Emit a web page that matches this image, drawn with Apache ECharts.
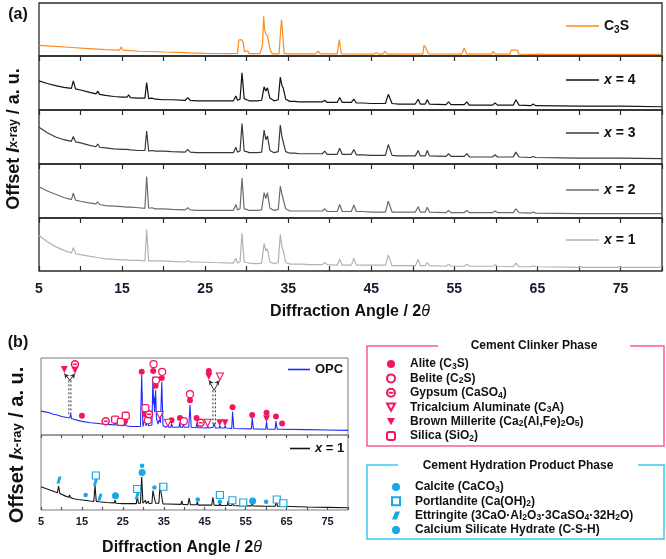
<!DOCTYPE html>
<html><head><meta charset="utf-8">
<script src="https://cdn.jsdelivr.net/npm/echarts@6/dist/echarts.min.js"></script>
<style>html,body{margin:0;padding:0;background:#fff}#c{width:666px;height:559px}</style>
</head><body><div id="c"></div>
<script>
// ---------- axis ----------
const angleMin = 5, angleMax = 80, angleStep = 5;
const tickLabels = [5, 15, 25, 35, 45, 55, 65, 75];

// ---------- panel (a) patterns: [2θ, offset intensity (% of sub-panel)] ----------
const c3s = [[5,20],[7,18],[9,16],[11,14],[13,12],[14.7,11],[14.9,17],[15.1,11],[17,9],[20,7.5],[22.6,6.5],[22.8,9],[23,6],[25,5],[28,4.5],[28.9,5],[29.05,30],[29.2,33],[29.35,31],[29.55,27],[29.75,8],[29.9,11],[30.1,10],[30.3,4.5],[31.6,4.5],[31.9,20],[32.05,75],[32.15,50],[32.3,42],[32.5,38],[32.7,36],[32.85,10],[33.1,4],[33.9,4],[34.05,40],[34.2,69],[34.35,40],[34.5,5],[35,4],[38.3,4],[38.6,9],[38.9,4],[40.9,4],[41.15,31],[41.4,4],[45.3,3.5],[45.6,6],[45.9,3.5],[46.4,3.5],[46.65,9],[46.9,3.5],[49.5,3.5],[49.7,5],[49.9,3.5],[51.2,3.5],[51.35,20],[51.55,16],[51.75,19],[51.9,4],[55.9,3.5],[56.2,15],[56.5,3.5],[59.5,3.5],[59.7,9],[59.9,3.5],[61.7,3.5],[61.85,11],[62.6,11],[62.75,3.5],[64,3],[65.5,3.5],[66,3],[80,3]];
const x4 = [[5,54],[6,49],[7,45],[8,42],[8.9,40],[9.13,54],[9.4,39],[10,37],[11,33],[11.85,30],[12.07,35],[12.3,29],[13,27],[14,25],[15,24],[15.6,24],[15.8,28],[16,23],[17,22],[17.75,22],[17.96,51],[18.2,21],[18.6,22],[19,20],[20,19],[21,19],[22.6,18],[22.9,23],[23.2,18],[24,17],[26,17],[28.4,17],[28.7,26],[28.9,18],[29.2,20],[29.44,69],[29.7,21],[30,19],[30.3,17],[30.9,17],[31.1,20],[31.3,17],[31.8,18],[32.1,43],[32.3,35],[32.5,41],[32.8,22],[33.3,17],[33.8,19],[34.05,61],[34.25,45],[34.4,41],[34.7,20],[35.2,16],[35.8,16],[36,18],[36.3,15],[36.8,15],[37,17],[37.3,15],[39.1,15],[39.4,18],[39.7,14],[40.9,14],[41.2,23],[41.5,14],[42.6,14],[42.9,20],[43.2,13],[44,13],[45,12],[46.7,12],[47.05,29],[47.5,12],[48.3,11],[48.5,13],[48.8,11],[50.3,11],[50.65,20],[50.9,11],[51.5,11],[51.74,19],[52,11],[54,10],[54.3,15],[54.6,10],[56.2,10],[56.5,15],[56.8,9],[59.6,9],[59.9,13],[60.2,9],[62.1,9],[62.4,19],[62.8,9],[64.2,8],[64.5,11],[64.8,8],[70,7],[75,7],[80,6]];
const x3 = [[5,68],[6,58],[7,50],[8,45],[8.9,42],[9.13,51],[9.4,41],[10,39],[11,35],[11.85,32],[12.07,37],[12.3,31],[13,30],[14,28],[15,27],[15.6,27],[15.8,30],[16,26],[17,25],[17.75,25],[17.96,61],[18.2,24],[18.6,25],[19,24],[20,24],[21,23],[22.6,22],[22.9,27],[23.2,22],[24,21],[26,21],[28.4,21],[28.7,31],[28.9,22],[29.2,24],[29.44,75],[29.7,24],[30,23],[30.3,21],[30.9,21],[31.1,24],[31.3,21],[31.8,22],[32.1,63],[32.3,45],[32.5,52],[32.8,25],[33.3,21],[33.8,23],[34.05,72],[34.25,50],[34.4,47],[34.7,23],[35.2,20],[35.8,20],[36,22],[36.3,19],[36.8,19],[37,21],[37.3,19],[39.1,19],[39.4,24],[39.7,18],[40.9,18],[41.2,29],[41.5,18],[42.6,18],[42.9,27],[43.2,17],[44,17],[45,16],[46.7,16],[47.05,36],[47.5,16],[48.3,15],[48.5,17],[48.8,15],[50.3,15],[50.65,25],[50.9,15],[51.5,15],[51.74,25],[52,15],[54,14],[54.3,19],[54.6,14],[56.2,14],[56.5,19],[56.8,13],[59.6,13],[59.9,17],[60.2,13],[62.1,13],[62.4,22],[62.8,13],[64.2,12],[64.5,14],[64.8,12],[70,11],[75,11],[80,10]];
const x2 = [[5,58],[6,50],[7,44],[8,38],[8.9,34],[9.13,46],[9.4,33],[10,31],[11,28],[11.85,26],[12.07,30],[12.3,25],[13,23],[14,22],[15,21],[15.6,20],[15.8,23],[16,20],[17,19],[17.75,18],[17.96,77],[18.2,18],[18.6,19],[19,17],[20,17],[21,16],[22.6,15],[22.9,19],[23.2,15],[24,14],[26,14],[28.4,14],[28.7,25],[28.9,15],[29.2,17],[29.44,74],[29.7,17],[30,16],[30.3,14],[30.9,14],[31.1,17],[31.3,14],[31.8,15],[32.1,47],[32.3,36],[32.5,47],[32.8,18],[33.3,14],[33.8,16],[34.05,59],[34.25,44],[34.4,42],[34.7,17],[35.2,13],[35.8,13],[36,15],[36.3,13],[36.8,13],[37,15],[37.3,13],[39.1,13],[39.4,17],[39.7,12],[40.9,12],[41.2,25],[41.5,12],[42.6,12],[42.9,24],[43.2,12],[44,12],[45,11],[46.7,11],[47.05,31],[47.5,11],[48.3,11],[48.5,13],[48.8,11],[50.3,11],[50.65,21],[50.9,11],[51.5,11],[51.74,20],[52,11],[54,10],[54.3,14],[54.6,10],[56.2,10],[56.5,14],[56.8,10],[59.6,10],[59.9,13],[60.2,10],[62.1,10],[62.4,17],[62.8,10],[64.2,9],[64.5,11],[64.8,9],[70,8],[75,8],[80,8]];
const x1 = [[5,67],[6,55],[7,46],[8,39],[8.9,34],[9.13,44],[9.4,33],[10,31],[11,28],[11.85,26],[12.07,29],[12.3,25],[13,23],[14,22],[15,21],[15.6,21],[15.8,23],[16,20],[17,20],[17.75,19],[17.96,78],[18.2,19],[18.6,19],[19,19],[20,19],[21,18],[22.6,17],[22.9,20],[23.2,17],[24,17],[26,16],[28.4,15],[28.7,24],[28.9,15],[29.2,17],[29.44,71],[29.7,17],[30,16],[30.3,15],[30.9,14],[31.1,17],[31.3,14],[31.8,15],[32.1,52],[32.3,38],[32.5,42],[32.8,17],[33.3,14],[33.8,16],[34.05,69],[34.25,45],[34.4,39],[34.7,16],[35.2,13],[35.8,13],[36,15],[36.3,13],[36.8,13],[37,14],[37.3,12],[39.1,12],[39.4,16],[39.7,12],[40.9,11],[41.2,22],[41.5,11],[42.6,11],[42.9,24],[43.2,11],[44,11],[45,11],[46.7,11],[47.05,30],[47.5,10],[48.3,10],[48.5,12],[48.8,10],[50.3,10],[50.65,22],[50.9,10],[51.5,10],[51.74,16],[52,10],[54,9],[54.3,13],[54.6,9],[56.2,9],[56.5,13],[56.8,9],[59.6,9],[59.9,12],[60.2,9],[62.1,8],[62.4,15],[62.8,8],[64.2,8],[64.5,10],[64.8,8],[70,7],[75,7],[80,7]];

// ---------- panel (b) patterns ----------
const opc = [[5,31],[6,30],[7,29],[8,27],[9,26],[10,24],[11,23],[12,22],[12.25,27],[12.5,21],[13,20.5],[14,19],[14.8,18],[15,20],[15.2,17.5],[17,16],[19,15],[20.5,14],[20.7,16],[20.9,14],[22,13.5],[22.9,13],[23.1,17],[23.3,13],[24.2,12.5],[24.4,15],[24.6,12.5],[25.4,12],[25.6,17],[25.8,12],[27,11],[29.3,11],[29.6,78],[29.9,11],[30.25,12],[30.4,22],[30.6,12],[30.9,12],[31.1,17],[31.3,12],[32.1,13],[32.35,76],[32.5,40],[32.6,50],[32.75,30],[33.0,58],[33.2,22],[33.6,14],[33.9,20],[34.2,16],[34.5,69],[34.8,12],[35.5,10],[35.8,10],[36.0,13],[36.2,10],[36.7,10],[36.9,15],[37.1,10],[38.7,10],[38.9,16],[39.1,10],[39.6,10],[39.8,14],[40,10],[41.1,10],[41.4,39],[41.7,10],[42.9,9.5],[43.1,16],[43.3,9.5],[43.8,9.5],[44.0,12],[44.2,9.5],[45.5,9],[45.7,12],[45.9,9],[47.0,10],[47.3,15],[47.6,9],[48.5,9],[48.7,12],[48.9,9],[49.8,9],[50.0,12],[50.2,9],[51.6,8.5],[51.8,30],[52.1,8.5],[56.4,8],[56.6,22],[56.9,8],[59.9,7.5],[60.1,17],[60.3,7.5],[62.2,7.5],[62.4,18],[62.7,7.5],[63.7,7.5],[63.9,10],[64.1,7.5],[70,7],[75,6.5],[80,6]];
const x1b = [[5,31],[6,29],[7,27],[8,25],[9.0,23],[9.3,32],[9.6,22],[10,20],[11,18.5],[11.8,17],[12.0,20],[12.2,16.5],[13,15],[14,14],[15.6,13],[15.8,15],[16,12.5],[17,12],[17.9,11.5],[18.2,33],[18.5,11.5],[19.2,11],[19.4,13],[19.6,10.5],[21,10],[22.9,9.5],[23.1,13],[23.3,9],[25,8.5],[28.3,8.5],[28.5,20],[28.8,9],[29.3,9],[29.6,44],[29.9,9],[30.3,8.5],[30.5,13],[30.7,8.5],[31,8.5],[31.2,12],[31.4,8.5],[32.1,9],[32.35,26],[32.55,20],[32.7,22],[33,9],[33.8,9],[34.1,36],[34.3,24],[34.5,22],[34.8,8],[35.8,8],[36.0,10],[36.2,7.5],[39.2,7.5],[39.4,12],[39.6,7.5],[40.9,7],[41.2,16],[41.5,7],[43,7],[43.2,11],[43.4,6.5],[46.7,6.5],[47.0,17],[47.3,6.5],[48.5,6],[48.7,10],[48.9,6],[50.5,6],[50.7,12],[50.9,6],[51.6,6],[51.8,11],[52,6],[54.1,5.5],[54.3,8],[54.5,5.5],[56.4,5.5],[56.6,9],[56.8,5.5],[59.8,5],[60,7],[60.2,5],[62.2,5],[62.5,11],[62.8,5],[64.1,5],[64.3,7],[64.5,5],[70,4],[75,3.5],[80,3]];

// ---------- phase markers: [2θ, height] ----------
const alite = [[15.0,25],[25.5,18],[29.6,82],[30.4,27],[32.4,83],[33.0,64],[34.5,74],[36.9,19],[38.96,22],[41.4,45],[43.0,22],[46.0,83],[51.8,36],[56.6,26],[60.1,29],[62.4,24],[63.9,15]];
const belite = [[31.1,19],[32.5,92],[33.1,71],[34.6,82],[39.9,18],[41.4,53]];
const gypsum = [[13.3,92],[20.8,18],[31.4,27],[44.0,16]];
const c3a = [[34.0,26],[36.0,16],[45.7,16],[48.7,76]];
const brownmillerite = [[10.7,85],[13.3,84],[46.0,76],[48.66,16],[49.96,16],[60.1,21]];
const silica = [[23.1,20],[24.5,17],[25.7,25],[30.5,35]];
const calcite = [[23.2,19],[29.7,50],[56.7,12]];
const portlandite = [[18.4,46],[28.5,28],[34.9,31],[48.7,20],[51.75,13],[54.4,10],[62.6,14],[64.2,9]];
const ettringite = [[9.4,40],[18.3,37],[19.4,17],[28.5,19]];
const csh = [[15.9,20],[29.7,59],[32.7,30],[43.3,14],[48.7,11],[60.0,11]];

// ---------- overlapping-peak pointers ----------
const fork1 = [[10.7,80],[12.05,71],[13.3,80]];
const fork1DashA = [[11.8,71],[11.8,26]];
const fork1DashB = [[12.3,71],[12.3,26]];
const fork2 = [[46.0,71],[47.3,58],[48.6,71]];
const fork2DashA = [[47.0,58],[47.0,14]];
const fork2DashB = [[47.6,58],[47.6,14]];

const FONT = '"Liberation Sans", Arial, Helvetica, sans-serif';
const PINK = '#f2175c', PINKBOX = '#ff5a93', CYAN = '#16a9e6', CYANBOX = '#3cc8f2';

const gridsPos = [
  {left:39, top:3, width:623, height:53},
  {left:39, top:56, width:623, height:54},
  {left:39, top:110, width:623, height:54},
  {left:39, top:164, width:623, height:54},
  {left:39, top:218, width:623, height:53},
  {left:41, top:358, width:307, height:77},
  {left:41, top:435, width:307, height:75}
];
const grid = gridsPos.map((g, i) => Object.assign({show:true, borderColor: i < 5 ? '#2b2b2b' : '#7a7a7a', borderWidth: i < 5 ? 1.3 : 1, backgroundColor:'transparent'}, g));
const xAxis = gridsPos.map((g, i) => ({
  gridIndex: i, type:'value', min: angleMin, max: angleMax, interval: angleStep,
  axisLine:{show:false}, splitLine:{show:false},
  axisTick:{show:true, inside: (i === 4 || i === 6), length: i < 5 ? 5 : 3, lineStyle:{color: i < 5 ? '#2b2b2b' : '#555', width: 1.2}},
  axisLabel:{show: (i === 4 || i === 6), margin: i === 4 ? 11 : 6,
    formatter: v => tickLabels.includes(v) ? String(v) : '',
    fontFamily: FONT, fontWeight:'bold', fontSize: i === 4 ? 14 : 11, color:'#151a2e'}
}));
const yAxis = gridsPos.map((g, i) => ({gridIndex:i, type:'value', min:0, max:100, show:false}));

function lineS(name, data, idx, color, w) {
  return {name, type:'line', data, xAxisIndex: idx, yAxisIndex: idx, symbol:'none', showSymbol:false,
    lineStyle:{color, width: w || 1.2}, itemStyle:{color}, animation:false, silent:true, z:2};
}
function markS(name, data, symbol, size, fill, stroke, bw, idx) {
  return {name, type:'scatter', data, xAxisIndex: idx, yAxisIndex: idx, symbol, symbolSize: size,
    itemStyle:{color: fill, borderColor: stroke, borderWidth: bw, opacity:1}, animation:false, silent:true, z:5};
}
function pointerS(data, idx) {
  return {type:'line', data: data.map((p, k) => k === 1 ? {value:p, symbol:'none'} : {value:p, symbolRotate: p[0] < data[1][0] ? 37 : -37}),
    xAxisIndex: idx, yAxisIndex: idx, symbol:'arrow', symbolSize:[4,5], showSymbol:true,
    lineStyle:{color:'#333', width:1}, itemStyle:{color:'#333'}, animation:false, silent:true, z:4};
}
function dashS(data, idx) {
  return {type:'line', data, xAxisIndex: idx, yAxisIndex: idx, symbol:'none',
    lineStyle:{color:'#333', width:1, type:[2,2]}, animation:false, silent:true, z:4};
}

const TRI_DOWN = 'path://M0,0L10,0L5,9Z';
const GYP = 'path://M10,5A5,5,0,1,1,0,5A5,5,0,1,1,10,5ZM2.2,5L7.8,5';
const PARA = 'path://M4,0L10,0L6,10L0,10Z';

const series = [
  lineS('C3S', c3s, 0, '#ff8a1e'),
  lineS('x = 4', x4, 1, '#121212'),
  lineS('x = 3', x3, 2, '#3a3a3a'),
  lineS('x = 2', x2, 3, '#6c6c6c'),
  lineS('x = 1', x1, 4, '#b2b2b2'),
  lineS('OPC', opc, 5, '#1f2bff', 1.1),
  lineS('x1b', x1b, 6, '#151515', 1.1),
  pointerS(fork1, 5), dashS(fork1DashA, 5), dashS(fork1DashB, 5),
  pointerS(fork2, 5), dashS(fork2DashA, 5), dashS(fork2DashB, 5),
  markS('Alite', alite, 'circle', 6, PINK, PINK, 0, 5),
  markS('Belite', belite, 'circle', 7, '#fff', PINK, 1.2, 5),
  markS('Gypsum', gypsum, GYP, 7, '#fff', PINK, 1.5, 5),
  markS('C3A', c3a, TRI_DOWN, 7, '#fff', PINK, 1.1, 5),
  markS('Brownmillerite', brownmillerite, TRI_DOWN, 7, PINK, PINK, 0, 5),
  markS('Silica', silica, 'roundRect', 7, '#fff', PINK, 1.3, 5),
  markS('Calcite', calcite, 'circle', 7, CYAN, CYAN, 0, 6),
  markS('Portlandite', portlandite, 'rect', 7, '#fff', CYAN, 1.2, 6),
  markS('Ettringite', ettringite, PARA, [5,7], CYAN, CYAN, 0, 6),
  markS('CSH', csh, 'circle', 4.5, CYAN, CYAN, 0, 6)
];

const richLegendA = {
  n:{fontFamily:FONT, fontWeight:'bold', fontSize:14, color:'#111', lineHeight:18},
  i:{fontFamily:FONT, fontWeight:'bold', fontStyle:'italic', fontSize:14, color:'#111', lineHeight:18},
  s:{fontFamily:FONT, fontWeight:'bold', fontSize:10, color:'#111', verticalAlign:'bottom'}
};
const richLegendB = {
  n:{fontFamily:FONT, fontWeight:'bold', fontSize:12, color:'#111', lineHeight:14},
  s:{fontFamily:FONT, fontWeight:'bold', fontSize:8.5, color:'#111', verticalAlign:'bottom'}
};
const legendText = {
  'C3S':'{n|C}{s|3}{n|S}', 'x = 4':'{i|x}{n| = 4}', 'x = 3':'{i|x}{n| = 3}', 'x = 2':'{i|x}{n| = 2}', 'x = 1':'{i|x}{n| = 1}',
  'OPC':'{n|OPC}', 'x1b':'{i|x}{n| = 1}',
  'Alite':'{n|Alite (C}{s|3}{n|S)}', 'Belite':'{n|Belite (C}{s|2}{n|S)}', 'Gypsum':'{n|Gypsum (CaSO}{s|4}{n|)}',
  'C3A':'{n|Tricalcium Aluminate (C}{s|3}{n|A)}', 'Brownmillerite':'{n|Brown Millerite (Ca}{s|2}{n|(Al,Fe)}{s|2}{n|O}{s|5}{n|)}',
  'Silica':'{n|Silica (SiO}{s|2}{n|)}',
  'Calcite':'{n|Calcite (CaCO}{s|3}{n|)}', 'Portlandite':'{n|Portlandite (Ca(OH)}{s|2}{n|)}',
  'Ettringite':'{n|Ettringite (3CaO·Al}{s|2}{n|O}{s|3}{n|·3CaSO}{s|4}{n|·32H}{s|2}{n|O)}',
  'CSH':'{n|Calcium Silicate Hydrate (C-S-H)}'
};
const richLegendB2 = {
  n:{fontFamily:FONT, fontWeight:'bold', fontSize:13, color:'#111', lineHeight:16},
  i:{fontFamily:FONT, fontWeight:'bold', fontStyle:'italic', fontSize:13, color:'#111', lineHeight:16}
};
function lineLegend(name, left, top, w, rich) {
  return {data:[name], left, top, orient:'horizontal', icon:'rect', itemWidth:w, itemHeight:1.6, padding:0, selectedMode:false,
    formatter: n => legendText[n], textStyle:{rich}};
}
function phaseLegend(names, left, top, gap) {
  return {data:names, left, top, orient:'vertical', itemWidth:8, itemHeight:8, itemGap:gap, padding:0, selectedMode:false,
    formatter: n => legendText[n], textStyle:{rich: richLegendB, padding:[0,0,0,10]}};
}
const legend = [
  lineLegend('C3S', 566, 19, 33, richLegendA),
  lineLegend('x = 4', 566, 73, 33, richLegendA),
  lineLegend('x = 3', 566, 126, 33, richLegendA),
  lineLegend('x = 2', 566, 183, 33, richLegendA),
  lineLegend('x = 1', 566, 233, 33, richLegendA),
  lineLegend('OPC', 288, 363, 22, richLegendB2),
  lineLegend('x1b', 290, 442, 20, richLegendB2),
  phaseLegend(['Alite','Belite','Gypsum','C3A','Brownmillerite','Silica'], 386, 358, 1.4),
  phaseLegend(['Calcite','Portlandite','Ettringite','CSH'], 391, 481, 1.3)
];

function txt(x, y, text, rich, opts) {
  return Object.assign({type:'text', x, y, silent:true, style:{text, rich, align:'center', verticalAlign:'middle', textAlign:'center', textVerticalAlign:'middle'}}, opts || {});
}
function bold(size, extra) { return Object.assign({fontFamily:FONT, fontWeight:'bold', fontSize:size, fill:'#111', color:'#111'}, extra || {}); }

const graphic = [
  txt(18, 15, '{n|(a)}', {n: bold(16)}),
  txt(18, 343, '{n|(b)}', {n: bold(16)}),
  txt(350, 312, '{n|Diffraction Angle / 2}{t|θ}', {n: bold(16, {lineHeight:20}), t: Object.assign(bold(16), {fontStyle:'italic', fontWeight:'normal'})}),
  txt(182, 548, '{n|Diffraction Angle / 2}{t|θ}', {n: bold(16, {lineHeight:20}), t: Object.assign(bold(16), {fontStyle:'italic', fontWeight:'normal'})}),
  txt(14, 139, '{n|Offset }{i|I}{s|x-ray}{n| / a. u.}', {n: bold(18, {lineHeight:22}), i: bold(18, {fontStyle:'italic', lineHeight:22}), s: bold(12)}, {rotation: Math.PI/2}),
  txt(17, 445, '{n|Offset }{i|I}{s|x-ray}{n| / a. u.}', {n: bold(20, {lineHeight:24}), i: bold(20, {fontStyle:'italic', lineHeight:24}), s: bold(13)}, {rotation: Math.PI/2}),
  {type:'polyline', silent:true, shape:{points:[[438,346],[367,346],[367,446],[664,446],[664,346],[630,346]]}, style:{stroke:PINKBOX, lineWidth:1.5, fill:null}},
  txt(534, 346, '{n|Cement Clinker Phase}', {n: bold(12)}),
  {type:'polyline', silent:true, shape:{points:[[398,465],[367,465],[367,539],[664,539],[664,465],[638,465]]}, style:{stroke:CYANBOX, lineWidth:1.5, fill:null}},
  txt(518, 466, '{n|Cement Hydration Product Phase}', {n: bold(12)})
];

const chart = echarts.init(document.getElementById('c'), null, {renderer:'canvas'});
chart.setOption({animation:false, backgroundColor:'#fff', grid, xAxis, yAxis, series, legend, graphic});
</script></body></html>
